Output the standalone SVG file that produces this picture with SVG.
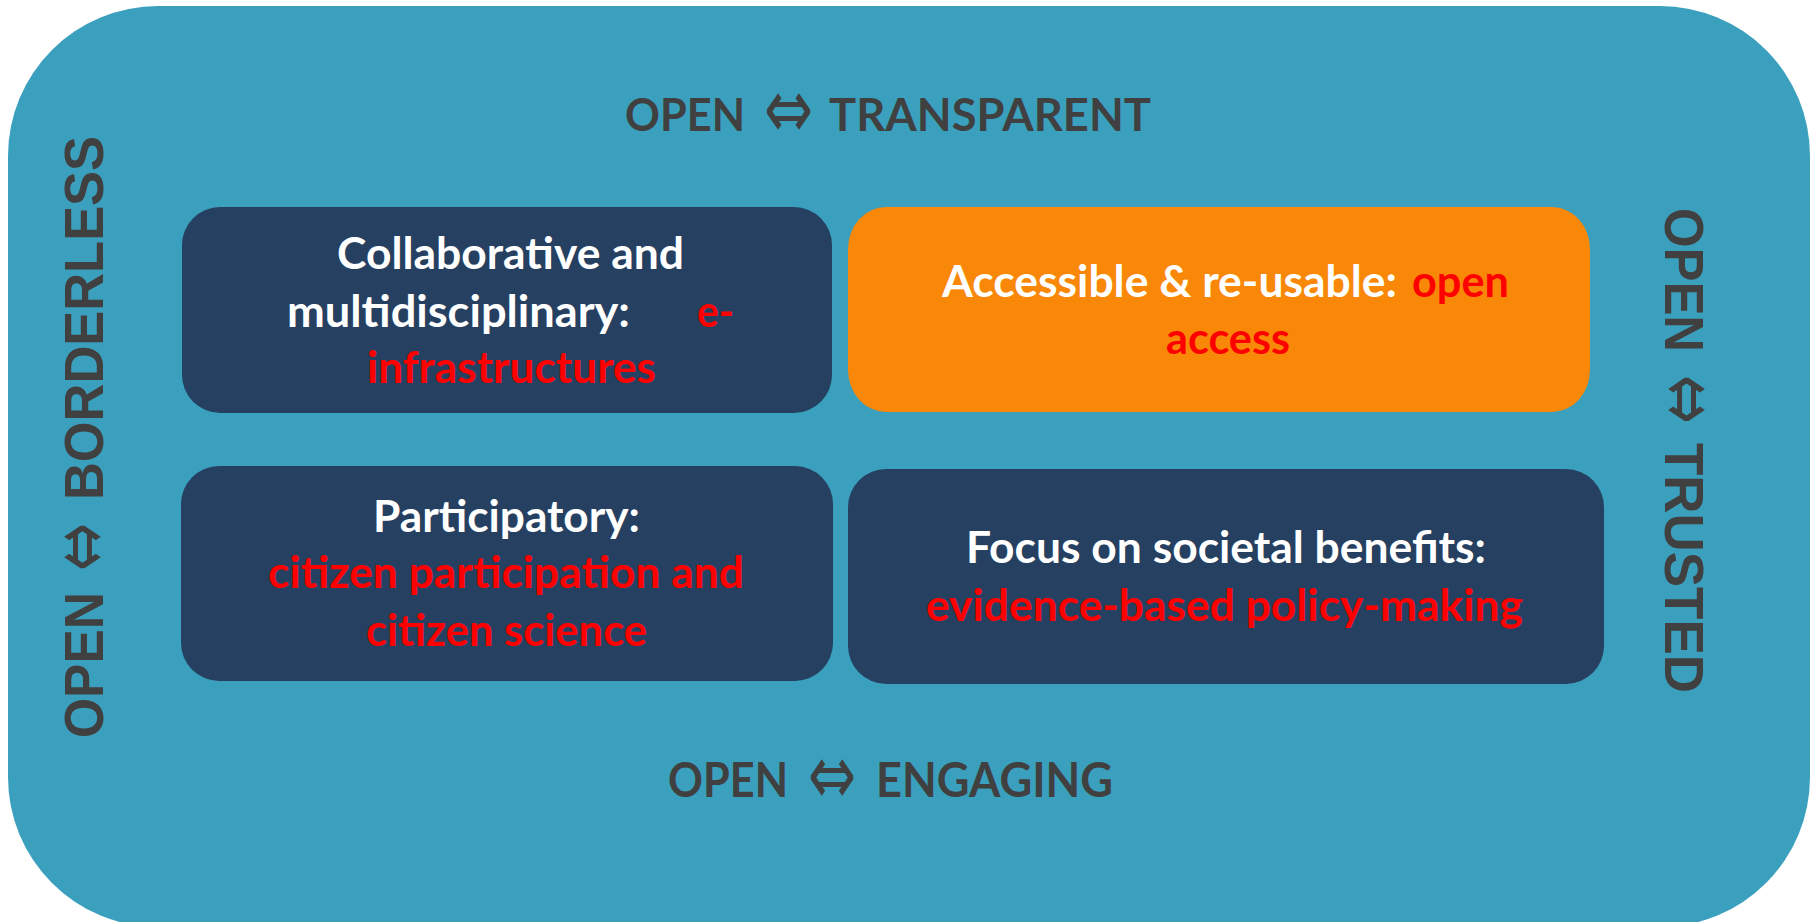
<svg xmlns="http://www.w3.org/2000/svg" width="1820" height="922" viewBox="0 0 1820 922">
  <style>
    .box { fill: #264061; }
    .hl { fill: #F98708; }
    .t { font-family: Lato, "Open Sans", "Liberation Sans", sans-serif; font-weight: bold; font-size: 44px; }
    .w { fill: #FFFFFF; }
    .r { fill: #FF0000; }
    .axis { font-family: Lato, "Open Sans", "Liberation Sans", sans-serif; font-weight: bold; font-size: 46px; fill: #404040; }
    .vaxis { font-family: "Liberation Sans", Arial, sans-serif; font-weight: bold; font-size: 56px; fill: #404040; }
    .arr { font-family: "DejaVu Sans", sans-serif; font-weight: normal; font-size: 85px; fill: #404040; }
  </style>
  <rect width="1820" height="922" fill="#FFFFFF"/>
  <g id="background">
    <rect x="8" y="6" width="1802" height="921" rx="150" ry="150" fill="#3BA0BE"/>
  </g>
  <g id="axis-top">
    <text class="axis" x="625" y="131" textLength="120" lengthAdjust="spacingAndGlyphs">OPEN</text>
    <text class="arr" x="788.5" y="138" text-anchor="middle" textLength="49" lengthAdjust="spacingAndGlyphs">⇔</text>
    <text class="axis" x="829" y="131" textLength="322" lengthAdjust="spacingAndGlyphs">TRANSPARENT</text>
  </g>
  <g id="axis-bottom">
    <text class="axis" x="668" y="797" textLength="120" lengthAdjust="spacingAndGlyphs" style="font-size:47px">OPEN</text>
    <text class="arr" x="832" y="803.5" text-anchor="middle" textLength="48" lengthAdjust="spacingAndGlyphs">⇔</text>
    <text class="axis" x="876" y="797" textLength="237" lengthAdjust="spacingAndGlyphs" style="font-size:47px">ENGAGING</text>
  </g>
  <g id="axis-left">
    <text class="vaxis" transform="translate(103,665) rotate(-90)" text-anchor="middle" textLength="146" lengthAdjust="spacingAndGlyphs">OPEN</text>
    <text class="arr" transform="translate(109,547) rotate(-90)" text-anchor="middle" textLength="48" lengthAdjust="spacingAndGlyphs">⇔</text>
    <text class="vaxis" transform="translate(103,318) rotate(-90)" text-anchor="middle" textLength="364" lengthAdjust="spacingAndGlyphs">BORDERLESS</text>
  </g>
  <g id="axis-right">
    <text class="vaxis" transform="translate(1665,280) rotate(90)" text-anchor="middle" textLength="144" lengthAdjust="spacingAndGlyphs">OPEN</text>
    <text class="arr" transform="translate(1659.5,399.5) rotate(90)" text-anchor="middle" textLength="49" lengthAdjust="spacingAndGlyphs">⇔</text>
    <text class="vaxis" transform="translate(1665,568) rotate(90)" text-anchor="middle" textLength="250" lengthAdjust="spacingAndGlyphs">TRUSTED</text>
  </g>
  <g id="node-collaborative">
    <rect class="box" x="182" y="207" width="650" height="206" rx="38" ry="38"/>
    <text class="t w" x="337" y="269" textLength="347" lengthAdjust="spacingAndGlyphs">Collaborative and</text>
    <text class="t w" x="287" y="327" textLength="343" lengthAdjust="spacingAndGlyphs">multidisciplinary:</text>
    <text class="t r" x="697" y="327" textLength="37" lengthAdjust="spacingAndGlyphs">e-</text>
    <text class="t r" x="367" y="383" textLength="289" lengthAdjust="spacingAndGlyphs">infrastructures</text>
  </g>
  <g id="node-accessible">
    <rect class="hl" x="848" y="207" width="742" height="205" rx="38" ry="42"/>
    <text class="t w" x="942" y="297" textLength="455" lengthAdjust="spacingAndGlyphs">Accessible &amp; re-usable:</text>
    <text class="t r" x="1412" y="297" textLength="97" lengthAdjust="spacingAndGlyphs">open</text>
    <text class="t r" x="1166" y="354" textLength="124" lengthAdjust="spacingAndGlyphs">access</text>
  </g>
  <g id="node-participatory">
    <rect class="box" x="181" y="466" width="652" height="215" rx="38" ry="38"/>
    <text class="t w" x="373" y="532" textLength="267" lengthAdjust="spacingAndGlyphs">Participatory:</text>
    <text class="t r" x="268" y="588" textLength="476" lengthAdjust="spacingAndGlyphs">citizen participation and</text>
    <text class="t r" x="366" y="646" textLength="281" lengthAdjust="spacingAndGlyphs">citizen science</text>
  </g>
  <g id="node-societal">
    <rect class="box" x="848" y="469" width="756" height="215" rx="38" ry="38"/>
    <text class="t w" x="966" y="563" textLength="520" lengthAdjust="spacingAndGlyphs">Focus on societal benefits:</text>
    <text class="t r" x="926" y="621" textLength="597" lengthAdjust="spacingAndGlyphs">evidence-based policy-making</text>
  </g>
  <g id="connectors"/>
</svg>
